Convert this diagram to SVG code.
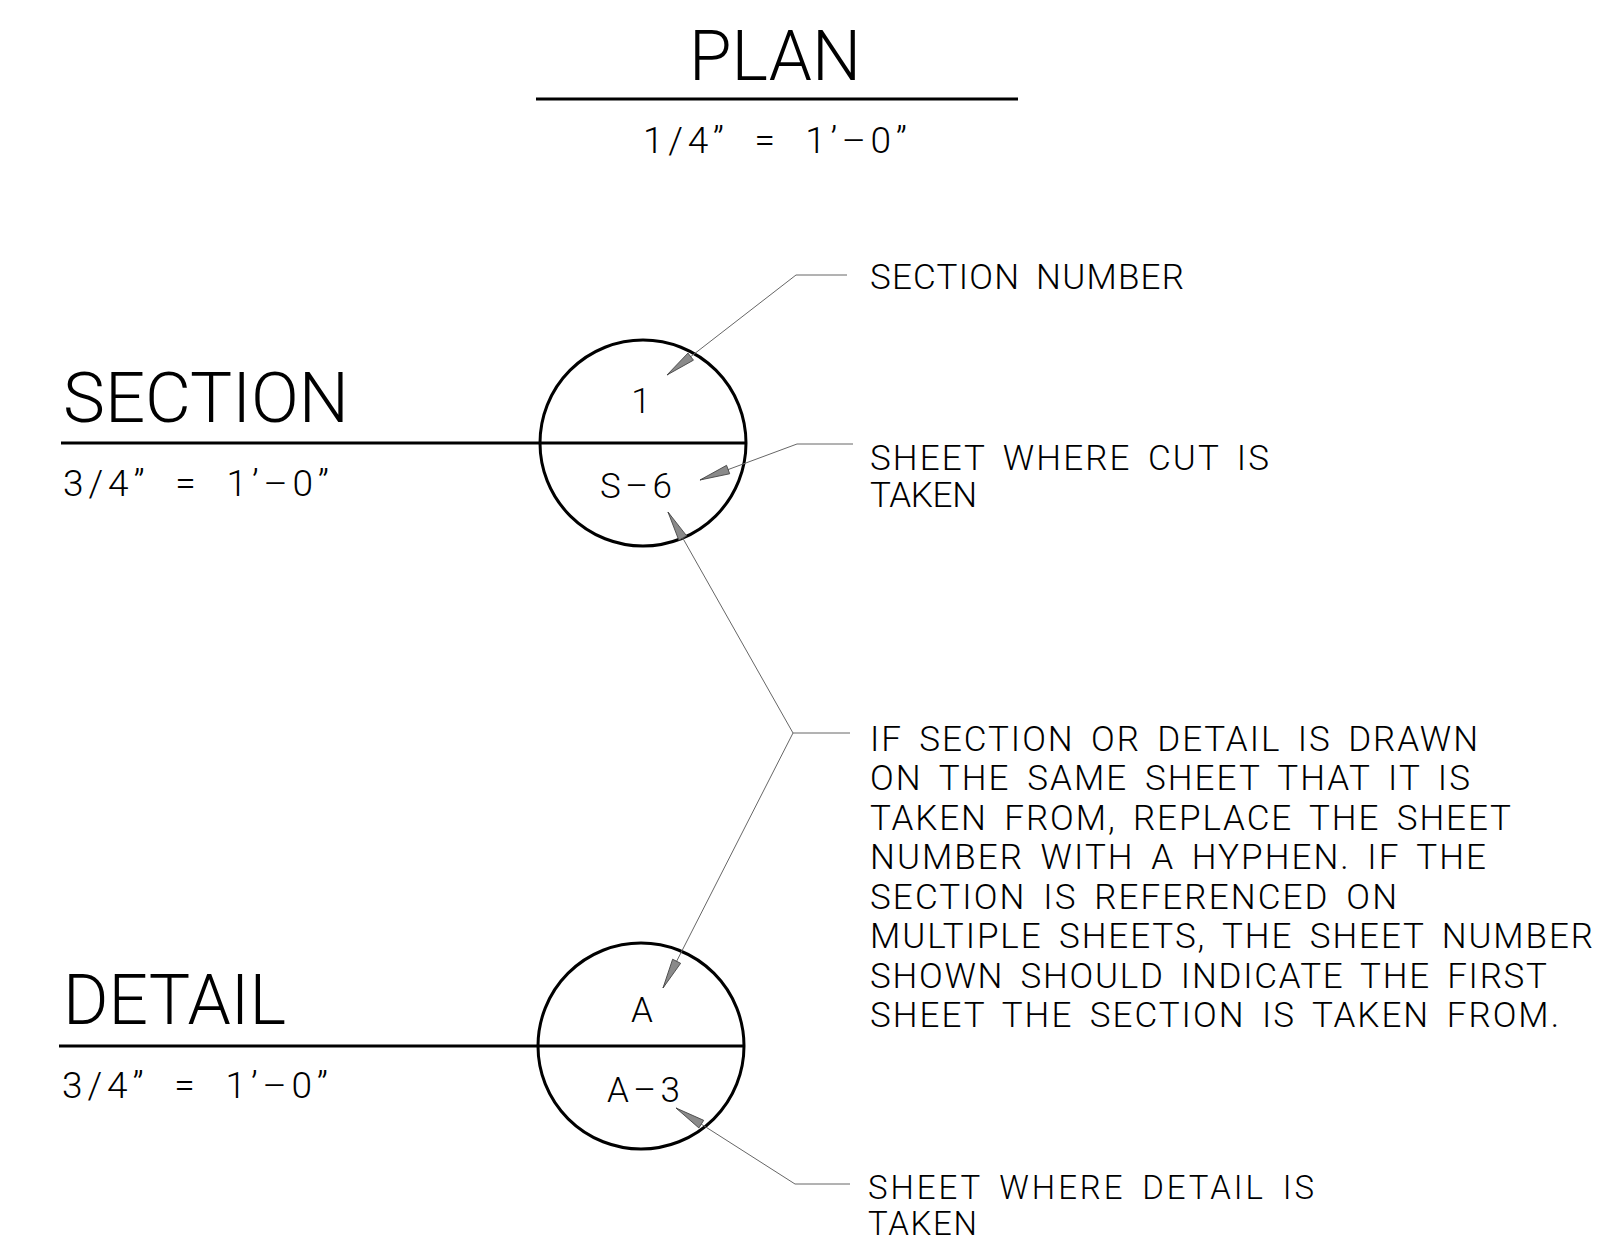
<svg xmlns="http://www.w3.org/2000/svg" width="1601" height="1244" viewBox="0 0 1601 1244">
<style>
text{font-family:Roboto,"Liberation Sans",Arial,sans-serif;font-weight:300;fill:#000}
.big{font-size:71px}
.sc{font-size:37px;word-spacing:12px}
.lb{font-size:35px;word-spacing:6px}
.bl{font-size:33px;word-spacing:6px}
.heavy{stroke:#000;stroke-width:3;fill:none}
.lead{stroke:#666;stroke-width:1;fill:none}
</style>
<defs>
<marker id="ah" markerUnits="userSpaceOnUse" viewBox="-32 -6 34 12" refX="0" refY="0" markerWidth="34" markerHeight="12" orient="auto-start-reverse">
<path d="M0,0 L-30,-4.5 L-30,4.5 Z" fill="#8a8a8a" stroke="#444" stroke-width="0.8"/>
</marker>
</defs>
<g id="plan-title">
<text class="big" x="689" y="80" textLength="172" lengthAdjust="spacingAndGlyphs">PLAN</text>
<line class="heavy" x1="536" y1="99" x2="1018" y2="99" stroke-width="2.5"/>
<text class="sc" x="643" y="153" textLength="264" lengthAdjust="spacing">1/4” = 1’–0”</text>
</g>
<g id="section-title">
<text class="big" x="63" y="422" textLength="286" lengthAdjust="spacingAndGlyphs">SECTION</text>
<line class="heavy" x1="61" y1="443" x2="745" y2="443"/>
<text class="sc" x="63" y="496" textLength="266" lengthAdjust="spacing">3/4” = 1’–0”</text>
</g>
<g id="section-bubble">
<circle class="heavy" cx="643" cy="443" r="103"/>
<text class="lb" x="641" y="413" text-anchor="middle">1</text>
<text class="lb" x="600" y="498" textLength="72" lengthAdjust="spacing">S–6</text>
</g>
<g id="detail-title">
<text class="big" x="63" y="1024" textLength="223" lengthAdjust="spacingAndGlyphs">DETAIL</text>
<line class="heavy" x1="59" y1="1046" x2="743" y2="1046"/>
<text class="sc" x="62" y="1098" textLength="266" lengthAdjust="spacing">3/4” = 1’–0”</text>
</g>
<g id="detail-bubble">
<circle class="heavy" cx="641" cy="1046" r="103"/>
<text class="lb" x="642" y="1022" text-anchor="middle">A</text>
<text class="lb" x="607" y="1102" textLength="73" lengthAdjust="spacing">A–3</text>
</g>
<g id="note-section-number">
<text class="lb" x="870" y="289" textLength="314" lengthAdjust="spacing">SECTION NUMBER</text>
</g>
<g id="note-sheet-cut">
<text class="lb" x="870" y="470" textLength="399" lengthAdjust="spacing">SHEET WHERE CUT IS</text>
<text class="lb" x="870" y="507" textLength="107" lengthAdjust="spacing">TAKEN</text>
</g>
<g id="note-hyphen">
<text class="lb" x="870" y="751" textLength="608" lengthAdjust="spacing">IF SECTION OR DETAIL IS DRAWN</text>
<text class="lb" x="870" y="790" textLength="600" lengthAdjust="spacing">ON THE SAME SHEET THAT IT IS</text>
<text class="lb" x="870" y="830" textLength="641" lengthAdjust="spacing">TAKEN FROM, REPLACE THE SHEET</text>
<text class="lb" x="870" y="869" textLength="616" lengthAdjust="spacing">NUMBER WITH A HYPHEN. IF THE</text>
<text class="lb" x="870" y="909" textLength="527" lengthAdjust="spacing">SECTION IS REFERENCED ON</text>
<text class="lb" x="870" y="948" textLength="723" lengthAdjust="spacing">MULTIPLE SHEETS, THE SHEET NUMBER</text>
<text class="lb" x="870" y="988" textLength="677" lengthAdjust="spacing">SHOWN SHOULD INDICATE THE FIRST</text>
<text class="lb" x="870" y="1027" textLength="689" lengthAdjust="spacing">SHEET THE SECTION IS TAKEN FROM.</text>
</g>
<g id="note-sheet-detail">
<text class="bl" x="868" y="1199" textLength="446" lengthAdjust="spacing">SHEET WHERE DETAIL IS</text>
<text class="bl" x="868" y="1235" textLength="109" lengthAdjust="spacing">TAKEN</text>
</g>
<g id="connectors">
<path class="lead" d="M667,375 L796,275 L847,275" marker-start="url(#ah)"/>
<path class="lead" d="M700,480 L797,444 L853,444" marker-start="url(#ah)"/>
<path class="lead" d="M668,512 L793,733 L850,733" marker-start="url(#ah)"/>
<path class="lead" d="M663,988 L793,733" marker-start="url(#ah)"/>
<path class="lead" d="M676,1108 L795,1184 L850,1184" marker-start="url(#ah)"/>
</g>
</svg>
